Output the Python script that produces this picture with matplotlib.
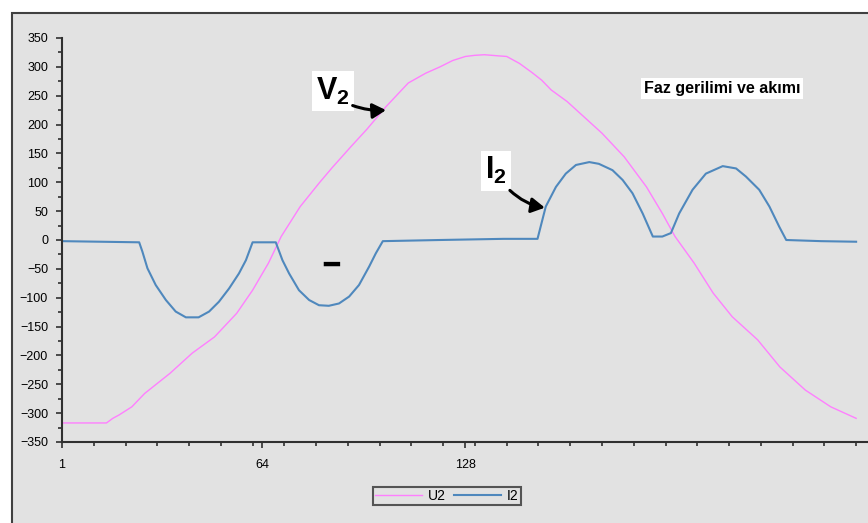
import matplotlib.pyplot as plt
from matplotlib.patches import Rectangle

plt.rcParams['font.family'] = ['Liberation Sans', 'DejaVu Sans']
plt.rcParams['mathtext.fontset'] = 'custom'
plt.rcParams['mathtext.bf'] = 'Liberation Sans:bold'
plt.rcParams['mathtext.rm'] = 'Liberation Sans'

# phase voltage U2 (sample index, value)
v2_x = [1, 15, 17, 19, 23, 27, 35, 42, 49, 56, 61, 66, 70, 76, 82, 86, 92,
        97, 103, 110, 115.5, 120, 124, 128, 131, 134, 138.5, 141, 145, 149,
        152, 155, 160, 164, 171, 178, 185, 190, 194, 200, 206, 212, 220, 227,
        235, 243, 251]
v2_y = [-317, -317, -309, -303, -289, -266, -231, -196, -168, -127, -87, -40,
        6, 58, 99, 125, 162, 192, 231, 272, 289, 300, 311, 318, 320, 321, 319,
        318, 306, 290, 277, 260, 240, 220, 185, 144, 92, 46, 6, -40, -92,
        -133, -173, -220, -260, -289, -309]

# phase current I2
i2_x = [1, 25.3, 26.3, 27.9, 30.5, 33.7, 36.8, 40, 44, 47.3, 50.4, 53.6, 56.7,
        58.9, 61, 68.3, 70.4, 72.5, 75.6, 78.8, 81.9, 85, 88.2, 91.4, 94.5,
        97.7, 99.8, 102, 120, 140, 150.7, 153.3, 156.5, 159.6, 162.8, 167,
        170, 174.3, 177.5, 180.6, 183.8, 187, 190, 192.7, 195.3, 199.5, 203.7,
        209, 213.2, 216.3, 220.5, 223.7, 226.8, 229, 240, 251]
i2_y = [-2, -4, -20, -49, -78, -104, -124, -134, -134, -124, -107, -84, -58,
        -35, -4, -4, -35, -58, -87, -104, -113, -114, -110, -98, -78, -46,
        -23, -2, 0, 2, 2, 58, 92, 115, 130, 135, 132, 121, 104, 81, 46, 6, 6,
        12, 46, 87, 115, 128, 124, 110, 87, 58, 23, 0, -2, -3]

x_labels = {1: '1', 64: '64', 128: '128'}

fig = plt.figure(figsize=(8.68, 5.23), dpi=100)
fig.patch.set_facecolor('white')
# chart area frame
fig.patches.append(Rectangle((12 / 868, -0.05), 1.1, (523 - 13) / 523 + 0.05,
                             transform=fig.transFigure, facecolor='#e2e2e2',
                             edgecolor='#404040', linewidth=1.5, zorder=-10))

ax = fig.add_axes([62 / 868, 81 / 523, 810 / 868, 404 / 523])
ax.set_facecolor('#e2e2e2')
ax.plot(v2_x, v2_y, color='#ff7fff', lw=1.0, label='U2')
ax.plot(i2_x, i2_y, color='#4f88bd', lw=1.5, label='I2')

ax.set_xlim(1, 256)
ax.set_ylim(-350, 350)
ax.set_yticks(range(-350, 351, 50))
ax.set_yticks(range(-325, 350, 50), minor=True)
ax.set_xticks(list(x_labels.keys()))
ax.set_xticklabels(list(x_labels.values()))
ax.set_xticks(range(1, 257, 10), minor=True)
for s in ['top', 'right']:
    ax.spines[s].set_visible(False)
for s in ['left', 'bottom']:
    ax.spines[s].set_color('#303030')
    ax.spines[s].set_linewidth(1.5)
ax.tick_params(axis='both', which='both', direction='out', color='#303030',
               labelsize=9, width=1.2)
ax.tick_params(axis='both', which='major', length=4)
ax.tick_params(axis='both', which='minor', length=3)
ax.tick_params(axis='y', pad=6)
ax.tick_params(axis='x', pad=8)

# annotations
box = dict(facecolor='white', edgecolor='none', pad=3)
arrow = dict(arrowstyle='-|>,head_length=0.8,head_width=0.45', color='black',
             lw=2.2, shrinkA=0, shrinkB=0)
ax.text(86.3, 258, r'$\mathbf{V_2}$', fontsize=22, ha='center', va='center',
        bbox=box)
ax.annotate('', xy=(103, 225), xytext=(92.5, 233),
            arrowprops=dict(arrow, connectionstyle='arc3,rad=0.1'))
ax.text(137.7, 120, r'$\mathbf{I_2}$', fontsize=22, ha='center', va='center',
        bbox=box)
ax.annotate('', xy=(153, 56), xytext=(142, 86),
            arrowprops=dict(arrow, connectionstyle='arc3,rad=0.15'))
ax.text(0.718, 0.875, 'Faz gerilimi ve akımı', transform=ax.transAxes,
        fontsize=11.5, fontweight='bold', bbox=dict(box, pad=2), ha='left',
        va='center')
ax.text(85.7, -45, '\u2501', fontsize=19, ha='center', va='center',
        family='DejaVu Sans', color='black')

leg = ax.legend(loc='upper left', bbox_to_anchor=(373 / 868, 36 / 523),
                bbox_transform=fig.transFigure, ncol=2, fontsize=10, frameon=True,
                fancybox=False, handlelength=3.4, columnspacing=0.6,
                borderpad=0.15, handletextpad=0.4, borderaxespad=0)
leg.get_frame().set_edgecolor('#303030')
leg.get_frame().set_linewidth(1.5)
leg.get_frame().set_facecolor('#e2e2e2')

fig.savefig('out.png', dpi=100)
